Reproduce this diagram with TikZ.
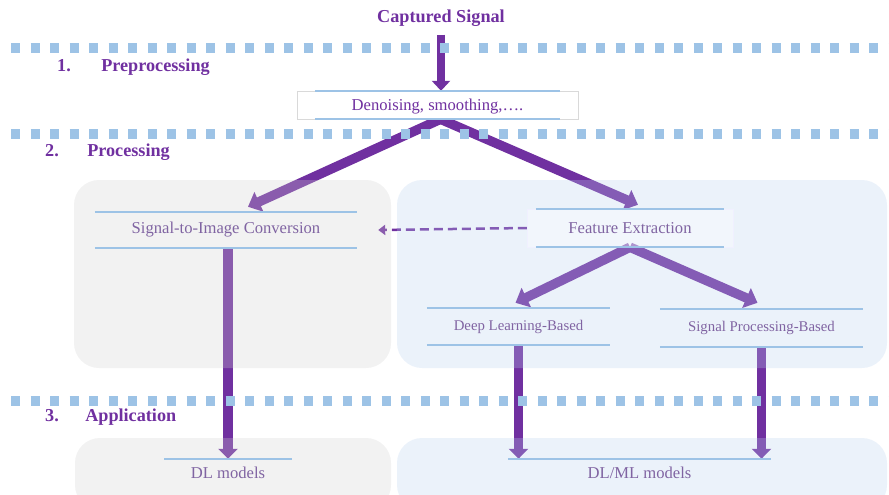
\documentclass[tikz,border=0pt]{standalone}
\usepackage{fontspec}
\setmainfont{Liberation Serif}
\usepackage{tikz}
\usetikzlibrary{arrows.meta, calc, positioning}
\definecolor{darkpurple}{HTML}{7030A0}
\definecolor{softpurple}{HTML}{8064A2}
\definecolor{barblue}{HTML}{9DC3E6}
\definecolor{boxgray}{HTML}{CFCFCF}
\definecolor{boxblue}{HTML}{B8D0EE}
\newcommand{\bigTip}{{Triangle[width=21pt, length=12pt]}}
\newcommand{\downTip}{{Triangle[width=19pt, length=10pt]}}
\newcommand{\dashTip}{{Triangle[width=10pt, length=7pt]}}
\pgfdeclarelayer{arrowlayer}
\pgfsetlayers{arrowlayer,main}
\tikzset{
	bar/.style={draw=barblue, line width=2.5pt},
	bars/.style={append after command={
		([xshift=#1]\tikzlastnode.north west) edge[bar] ([xshift=-#1]\tikzlastnode.north east)
		([xshift=#1]\tikzlastnode.south west) edge[bar] ([xshift=-#1]\tikzlastnode.south east)}},
	topbar/.style={append after command={
		(\tikzlastnode.north west) edge[bar] (\tikzlastnode.north east)}},
	stage/.style={text=softpurple, inner sep=0pt, font=\fontsize{16.6}{18}\selectfont},
	small/.style={font=\fontsize{14.8}{16}\selectfont},
	phase/.style={text=darkpurple, inner sep=0pt, anchor=west, font=\fontsize{18.2}{20}\selectfont\bfseries},
	flow/.style={draw=darkpurple, line width=9.5pt},
	dotline/.style={draw=barblue, line width=9.5pt, dash pattern=on 9pt off 10.5pt},
	panel/.style={fill opacity=.28, rounded corners=25pt}
}

\begin{document}
\begin{tikzpicture}[x=1pt, y=-1pt]
	\useasboundingbox (0,0) rectangle (889,495);
	
	\fill[panel, boxgray] (74,180) rectangle (391,368);
	\fill[panel, boxblue] (397,180) rectangle (887,368);
	\fill[panel, boxgray] (75,438) rectangle (391,510);
	\fill[panel, boxblue] (397,438) rectangle (887,510);
	
	\node[phase, anchor=center] (sig) at (441,18) {Captured Signal};
	\node[stage, text=darkpurple, draw=gray!30, fill=white, text height=15pt, minimum width=281pt, minimum height=28pt, bars=18pt] (den) at (437.5,105) {Denoising, smoothing,….};
	\node[stage, minimum width=262pt, minimum height=36pt, bars=0pt] (s2i) at (226,230) {Signal-to-Image Conversion};
	\node[stage, draw=blue!6, fill=white, fill opacity=.35, text opacity=1, minimum width=206pt, minimum height=38pt, bars=9pt] (fe) at (630,228) {Feature Extraction};
	\node[stage, small, minimum width=183pt, minimum height=37pt, bars=0pt] (dlb) at (518.5,326.5) {Deep Learning-Based};
	\node[stage, small, minimum width=203pt, minimum height=38pt, bars=0pt] (spb) at (761.5,328) {Signal Processing-Based};
	\node[stage, minimum width=127pt, minimum height=28pt, topbar] (dlm) at (228,473) {DL models};
	\node[stage, minimum width=263pt, minimum height=28pt, topbar] (dlml) at (639.5,473) {DL/ML models};
	
	\node[phase] (n1) at (57,66) {1.};
	\node[phase, base right=30pt of n1] (pre) {Preprocessing};
	\node[phase] (n2) at (45,151) {2.};
	\node[phase, base right=28pt of n2] (pro) {Processing};
	\node[phase] (n3) at (45,416) {3.};
	\node[phase, base right=26pt of n3] (app) {Application};
	
	\begin{pgfonlayer}{arrowlayer}
		\draw[flow, line width=8pt, shorten <=8pt, -{Triangle[width=18pt, length=10pt]}] (sig.south) -- (sig.south |- den.north);
		\draw[flow, -\bigTip] ([xshift=3pt]den.south) -- ([xshift=22pt, yshift=5pt]s2i.north);
		\draw[flow, -\bigTip] ([xshift=3pt]den.south) -- ([xshift=8pt, yshift=4pt]fe.north);
		\draw[flow, -\bigTip] (fe.south) -- ([xshift=-3pt, yshift=5pt]dlb.north);
		\draw[flow, -\bigTip] (fe.south) -- ([xshift=-4pt, yshift=6pt]spb.north);
		\draw[flow, line width=2.5pt, dash pattern=on 9pt off 5pt, -\dashTip] (fe.west) -- ([xshift=21pt]s2i.east);
		\draw[flow, -\downTip] (s2i.south -| dlm.north) -- (dlm.north);
		\draw[flow, -\downTip] (dlb.south) -- (dlb.south |- dlml.north);
		\draw[flow, -\downTip] (spb.south) -- (spb.south |- dlml.north);
	\end{pgfonlayer}
	
	\foreach \y in {48,134,401}
		\draw[dotline] (11,\y) -- (889,\y);
\end{tikzpicture}
\end{document}
